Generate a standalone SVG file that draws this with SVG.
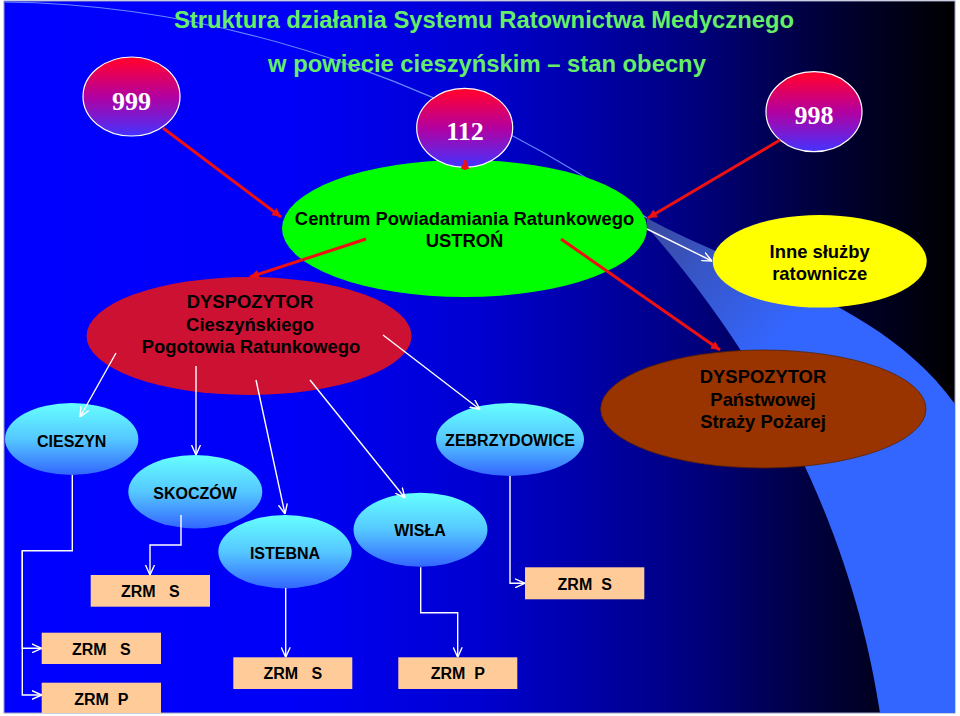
<svg xmlns="http://www.w3.org/2000/svg" width="960" height="716" viewBox="0 0 960 716">
<defs>
<linearGradient id="bg" gradientUnits="userSpaceOnUse" x1="4" y1="0" x2="955" y2="0">
<stop offset="0" stop-color="#0000ff"/>
<stop offset="0.3" stop-color="#0000f8"/>
<stop offset="0.5" stop-color="#0000d0"/>
<stop offset="0.72" stop-color="#000080"/>
<stop offset="0.88" stop-color="#000030"/>
<stop offset="1" stop-color="#000000"/>
</linearGradient>
<linearGradient id="sw" gradientUnits="userSpaceOnUse" x1="650" y1="220" x2="860" y2="420">
<stop offset="0" stop-color="#3a4aa0"/>
<stop offset="0.6" stop-color="#3366ff"/>
<stop offset="1" stop-color="#3366ff"/>
</linearGradient>
<linearGradient id="num" x1="0" y1="0" x2="0" y2="1">
<stop offset="0.05" stop-color="#ff0033"/>
<stop offset="0.5" stop-color="#b300a0"/>
<stop offset="1" stop-color="#4433ff"/>
</linearGradient>
<linearGradient id="cy" x1="0" y1="0" x2="0" y2="1">
<stop offset="0" stop-color="#66ffff"/>
<stop offset="0.5" stop-color="#55c8ff"/>
<stop offset="1" stop-color="#3366ff"/>
</linearGradient>
<marker id="ar" viewBox="0 0 10 10" refX="10" refY="5" markerWidth="9" markerHeight="9" markerUnits="userSpaceOnUse" orient="auto">
<path d="M0,0 L10,5 L0,10 Z" fill="#ee1111"/>
</marker>
<marker id="aw" viewBox="0 0 10 10" refX="10" refY="5" markerWidth="10" markerHeight="10" markerUnits="userSpaceOnUse" orient="auto">
<path d="M0,0.5 L10,5 L0,9.5" fill="none" stroke="#ffffff" stroke-width="1.4"/>
</marker>
<style>
.t{font-family:"Liberation Sans",Arial,sans-serif;font-weight:bold;fill:#000;text-anchor:middle}
.t16{font-size:16px}
.t18{font-size:18.4px}
.ttl{font-family:"Liberation Sans",Arial,sans-serif;font-weight:bold;font-size:23.8px;fill:#66ee66;text-anchor:middle}
.num{font-family:"Liberation Serif","Times New Roman",serif;font-weight:bold;font-size:26px;fill:#fff;text-anchor:middle}
.nume{fill:url(#num);stroke:#fff;stroke-width:1.2}
.cye{fill:url(#cy)}
.box{fill:#ffcc99}
.red{stroke:#ee1111;stroke-width:3;fill:none;marker-end:url(#ar)}
.wh{stroke:#fff;stroke-width:1.4;fill:none;marker-end:url(#aw)}
</style>
</defs>
<rect x="0" y="0" width="960" height="716" fill="#ffffff"/>
<rect x="4" y="1" width="951" height="712" fill="url(#bg)" stroke="#9aa0c0" stroke-width="1"/>
<path d="M647,218 C740,270 880,300 955,404 L955,713 L880,713 C860,580 800,400 647,227 Z" fill="url(#sw)"/>
<path d="M5,2 C250,5 480,100 647,218" fill="none" stroke="#6688ff" stroke-width="1.2"/>

<text class="ttl" x="484" y="28">Struktura działania Systemu Ratownictwa Medycznego</text>
<text class="ttl" x="487" y="72">w powiecie cieszyńskim – stan obecny</text>

<g id="n999"><ellipse class="nume" cx="131.5" cy="96.5" rx="48.5" ry="39.5"/><text class="num" x="131.5" y="110">999</text></g>
<g id="n998"><ellipse class="nume" cx="814" cy="111.7" rx="48" ry="40"/><text class="num" x="814" y="124">998</text></g>
<g id="centrum"><ellipse cx="464.5" cy="228.5" rx="182.5" ry="68.5" fill="#00ff00"/>
<text class="t t18" x="464.5" y="225">Centrum Powiadamiania Ratunkowego</text>
<text class="t t18" x="464.5" y="247">USTROŃ</text></g>
<g id="n112"><ellipse class="nume" cx="464.7" cy="127.8" rx="48" ry="39.5"/><text class="num" x="465" y="140">112</text></g>
<g id="inne"><ellipse cx="819.7" cy="261.3" rx="107" ry="46.3" fill="#ffff00"/>
<text class="t t18" x="819.7" y="258">Inne służby</text>
<text class="t t18" x="819.7" y="279.5">ratownicze</text></g>
<g id="dysp"><ellipse cx="249" cy="336" rx="162.5" ry="59" fill="#cc1133"/>
<text class="t t18" x="250" y="308">DYSPOZYTOR</text>
<text class="t t18" x="250" y="331">Cieszyńskiego</text>
<text class="t t18" x="251" y="353">Pogotowia Ratunkowego</text></g>
<g id="psp"><ellipse cx="763.3" cy="409" rx="162.7" ry="59" fill="#993300" stroke="#5a2200" stroke-width="0.8"/>
<text class="t t18" x="763" y="383.3">DYSPOZYTOR</text>
<text class="t t18" x="763" y="405.5">Państwowej</text>
<text class="t t18" x="763" y="428.3">Straży Pożarej</text></g>
<g id="cieszyn"><ellipse class="cye" cx="71.7" cy="439" rx="66.7" ry="36"/><text class="t t16" x="71.7" y="446.5">CIESZYN</text></g>
<g id="zebrzydowice"><ellipse class="cye" cx="510" cy="439.5" rx="74" ry="36.5"/><text class="t t16" x="510" y="446">ZEBRZYDOWICE</text></g>
<g id="skoczow"><ellipse class="cye" cx="195.3" cy="491.7" rx="67" ry="36.7"/><text class="t t16" x="195" y="499">SKOCZÓW</text></g>
<g id="istebna"><ellipse class="cye" cx="285" cy="551.7" rx="66.7" ry="36.7"/><text class="t t16" x="285" y="559">ISTEBNA</text></g>
<g id="wisla"><ellipse class="cye" cx="420.5" cy="529.7" rx="67" ry="37"/><text class="t t16" x="420" y="536">WISŁA</text></g>

<g id="zrm1"><rect class="box" x="90.7" y="575" width="119.3" height="31.7"/><text class="t t16" x="150.3" y="597.3" xml:space="preserve">ZRM   S</text></g>
<g id="zrm2"><rect class="box" x="41.7" y="632.7" width="119.3" height="31.3"/><text class="t t16" x="101.3" y="655" xml:space="preserve">ZRM   S</text></g>
<g id="zrm3"><rect class="box" x="41.7" y="682.7" width="119.3" height="30.3"/><text class="t t16" x="101.3" y="705" xml:space="preserve">ZRM  P</text></g>
<g id="zrm4"><rect class="box" x="233.3" y="657.3" width="119" height="31.7"/><text class="t t16" x="292.8" y="679.3" xml:space="preserve">ZRM   S</text></g>
<g id="zrm5"><rect class="box" x="398.3" y="657.3" width="119" height="31.7"/><text class="t t16" x="457.8" y="679.3" xml:space="preserve">ZRM  P</text></g>
<g id="zrm6"><rect class="box" x="525" y="567.3" width="119.3" height="32"/><text class="t t16" x="584.7" y="590" xml:space="preserve">ZRM  S</text></g>

<g id="connectors">
<path class="red" d="M163,128 L281,217"/>
<path class="red" d="M780,140 L648,218"/>
<path class="red" d="M366,239 L250,277"/>
<path class="red" d="M561,239 L720,350"/>
<path class="red" d="M465,170 L465,160"/>
<path class="wh" d="M647,229 L712,261"/>
<path class="wh" d="M116,353 L80,417"/>
<path class="wh" d="M196,366 L196,455"/>
<path class="wh" d="M256,380 L285,514"/>
<path class="wh" d="M310,380 L405,498"/>
<path class="wh" d="M383,335 L480,409.5"/>
<path class="wh" d="M72.3,475 V550.7 H22.3 V648.3 H41.7"/>
<path class="wh" d="M22.3,550.7 V695 H41.7"/>
<path class="wh" d="M181,515 V545 H150 V575"/>
<path class="wh" d="M285.7,588 V657.3"/>
<path class="wh" d="M420.7,567.3 V612.7 H457.7 V657.3"/>
<path class="wh" d="M510,476 V583.3 H525"/>
</g>
</svg>
